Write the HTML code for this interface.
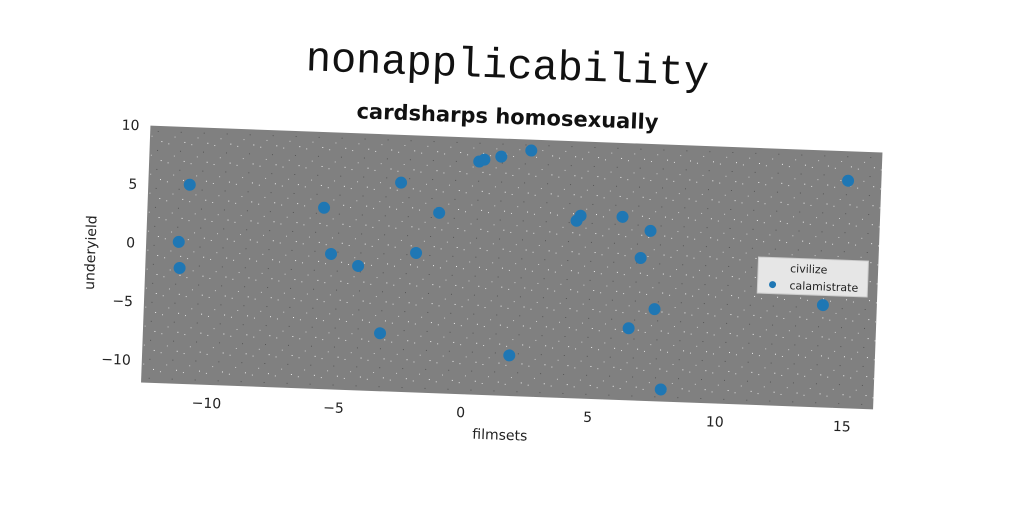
<!DOCTYPE html>
<html><head><meta charset="utf-8"><style>
html,body{margin:0;padding:0;background:#fff;}
svg{display:block;}
</style></head><body>
<svg width="1024" height="512" viewBox="0 0 1024 512" xmlns="http://www.w3.org/2000/svg">
<defs>
<pattern id="spk" width="23" height="19" patternUnits="userSpaceOnUse">
<rect x="3" y="4" width="1" height="1" fill="#ddd"/><rect x="15" y="11" width="1" height="1" fill="#555"/><rect x="9" y="16" width="1" height="1" fill="#ccc"/><rect x="19" y="2" width="1" height="1" fill="#eee"/>
</pattern>
</defs>
<g id="root" transform="rotate(2.1 511.75 267.25)">
<text x="500" y="78" text-anchor="middle" font-family="'Liberation Mono','DejaVu Sans Mono',monospace" font-size="42" fill="#111">nonapplicability</text>
<text x="502" y="124" text-anchor="middle" font-family="'DejaVu Sans',sans-serif" font-weight="bold" font-size="21" fill="#111">cardsharps homosexually</text>
<rect x="145.5" y="139" width="732.5" height="257" fill="#808080"/>
<rect x="145.5" y="139" width="732.5" height="257" fill="url(#spk)"/>
<g id="axes"></g>
<g id="pts"></g>
<g>
<rect x="758" y="248" width="110" height="36" fill="#e6e6e6" stroke="#ccc"/>
<text x="790" y="262" font-family="'DejaVu Sans',sans-serif" font-size="11" fill="#222">civilize</text>
<circle cx="773" cy="275" r="3.5" fill="#1f77b4"/>
<text x="790" y="279" font-family="'DejaVu Sans',sans-serif" font-size="11" fill="#222">calamistrate</text>
</g>
<text x="506" y="440" text-anchor="middle" font-family="'DejaVu Sans',sans-serif" font-size="14" fill="#222">filmsets</text>
<text transform="translate(95 268) rotate(-90)" text-anchor="middle" font-family="'DejaVu Sans',sans-serif" font-size="14" fill="#222">underyield</text>
</g>
</svg>
<script>
const xs=[-10.97,-11.32,-11.25,-5.66,-5.32,-4.24,-3.28,-2.67,-1.98,-1.13,0.37,0.57,1.23,2.40,1.83,4.28,4.43,6.08,7.2,6.85,6.48,7.47,7.83,14.08,14.89];
const ys=[5.09,0.19,-2.03,3.55,-0.36,-1.30,-6.96,5.93,-0.01,3.48,7.97,8.15,8.46,9.07,-8.44,3.23,3.67,3.71,2.6,0.26,-5.76,-4.05,-10.87,-3.18,7.49];
const xTicks=[-10,-5,0,5,10,15];
const yTicks=[10,5,0,-5,-10];
const xMin=-12.6,xMax=16.2,yMin=-11.9,yMax=10;
const L=145.5,R=878,T=139,B=396;
const sx=v=>L+(v-xMin)/(xMax-xMin)*(R-L);
const sy=v=>B-(v-yMin)/(yMax-yMin)*(B-T);
const NS='http://www.w3.org/2000/svg';
const ax=document.getElementById('axes');
xTicks.forEach(t=>{
  const tx=document.createElementNS(NS,'text');
  tx.setAttribute('x',sx(t));tx.setAttribute('y',B+23);
  tx.setAttribute('text-anchor','middle');tx.setAttribute('font-family',"'DejaVu Sans',sans-serif");
  tx.setAttribute('font-size','14');tx.setAttribute('fill','#222');
  tx.textContent=t<0?'\u2212'+(-t):String(t);
  
  
  ax.appendChild(tx);
});
yTicks.forEach(t=>{
  const tx=document.createElementNS(NS,'text');
  tx.setAttribute('x',L-11);tx.setAttribute('y',sy(t)+5);
  tx.setAttribute('text-anchor','end');tx.setAttribute('font-family',"'DejaVu Sans',sans-serif");
  tx.setAttribute('font-size','14');tx.setAttribute('fill','#222');
  tx.textContent=t<0?'\u2212'+(-t):String(t);
  
  
  ax.appendChild(tx);
});
const pg=document.getElementById('pts');
xs.forEach((x,i)=>{
  const c=document.createElementNS(NS,'circle');
  c.setAttribute('cx',sx(x));c.setAttribute('cy',sy(ys[i]));c.setAttribute('r','6');
  c.setAttribute('fill','#1f77b4');
  
  
  pg.appendChild(c);
});
</script>
</body></html>
